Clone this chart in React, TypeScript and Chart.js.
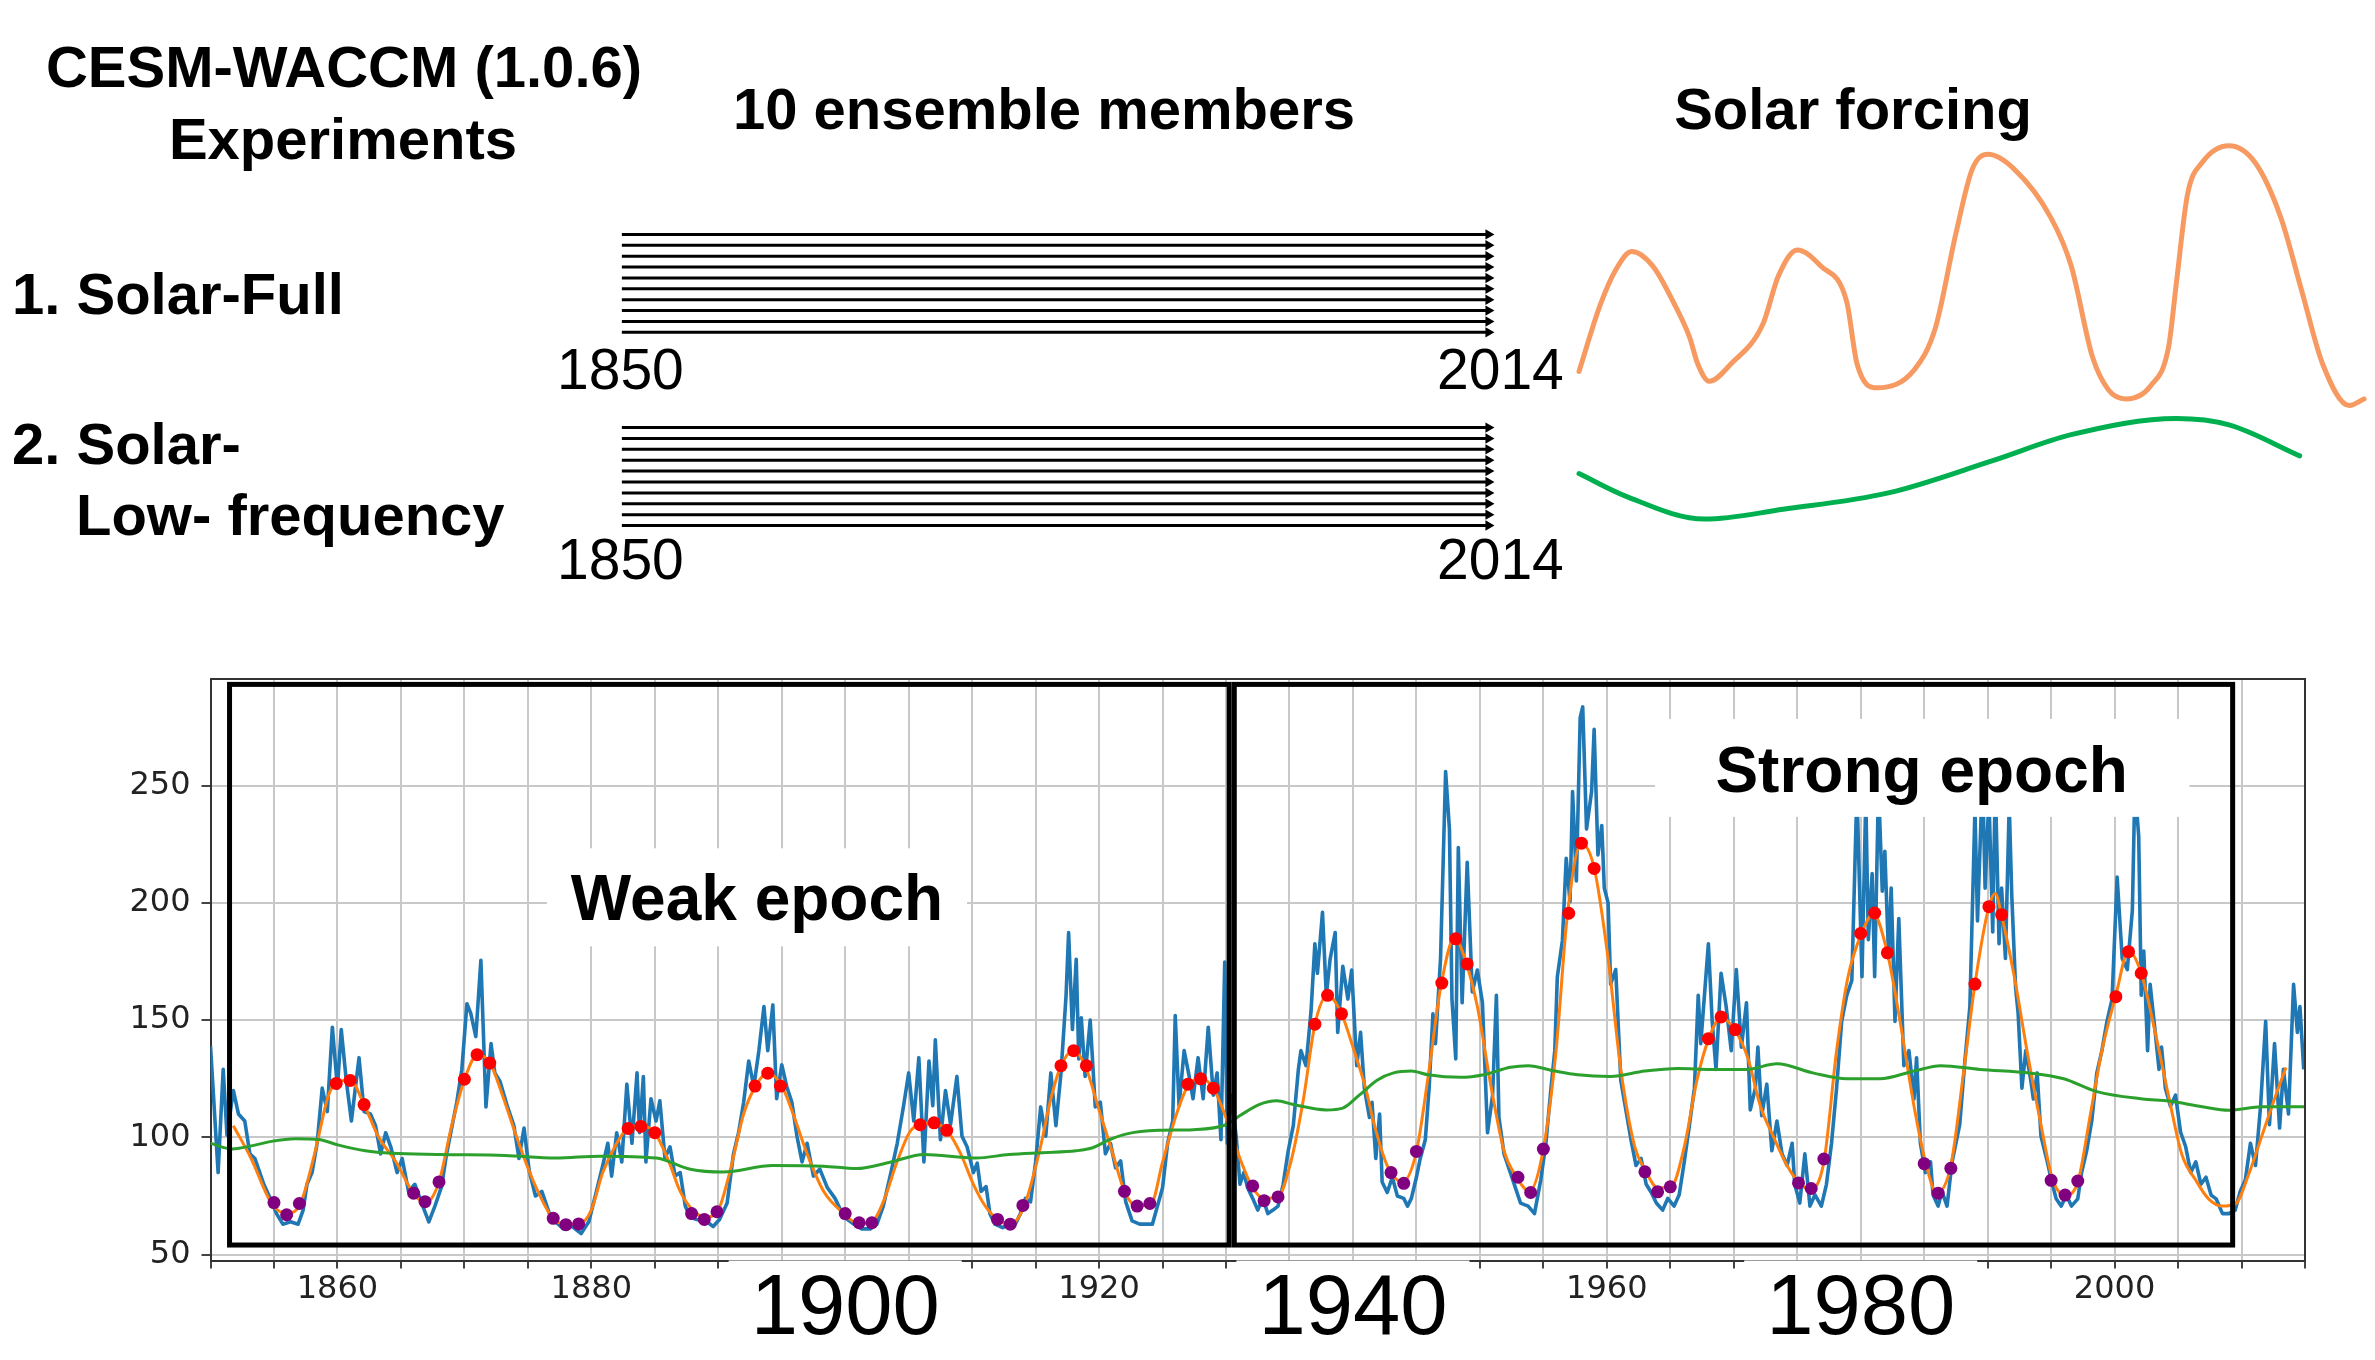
import React, { useEffect, useRef } from 'react';
import { Chart, registerables } from 'chart.js';

Chart.register(...registerables);

// ================= TOP PANEL DATA =================
const ensembleMembers = [1, 2, 3, 4, 5, 6, 7, 8, 9, 10];
const experimentNames = ['Solar-Full', 'Solar-Low-frequency'];
const runStartYear = 1850;
const runEndYear = 2014;

// schematic "Solar forcing" curves: [time index, forcing (arbitrary units)]
const fullForcingCurve: [number, number][] = [
  [0, 13.8], [2.7, 38.9], [4.7, 52.3], [6.7, 59.1], [9.4, 53.6], [12.0, 40.1], [14.1, 26.6], [15.1, 16.8],
  [16.6, 10.1], [19.4, 16.8], [23.4, 31.5], [25.4, 49.9], [27.8, 59.7], [30.8, 53.6], [34.1, 40.1], [35.4, 16.8],
  [38.0, 7.6], [42.7, 14.4], [45.4, 30.3], [48.0, 65.8], [50.1, 90.3], [52.1, 95.8], [55.4, 90.3], [60.1, 71.9],
  [62.7, 53.6], [65.4, 19.3], [67.4, 7.0], [69.7, 3.4], [72.8, 8.3], [75.1, 23.0], [76.1, 47.4], [77.5, 80.5],
  [79.4, 92.8], [82.8, 99.1], [86.1, 92.8], [89.4, 71.9], [92.1, 43.8], [94.7, 16.8], [98.1, 0.9], [100, 3.4],
];
const lowFreqForcingCurve: [number, number][] = [
  [0, -24.8], [6.0, -33.4], [16.0, -42.0], [26.0, -38.3], [39.4, -32.1], [52.7, -19.9], [62.7, -10.1],
  [76.1, -4.0], [82.8, -6.4], [91.8, -18.1],
];

// ================= BOTTOM PANEL DATA =================
const monthlySeries: [number, number][] = [
  [1850.0, 139], [1850.2, 121], [1850.6, 85], [1851.0, 129], [1851.3, 101], [1851.8, 120], [1852.2, 110], [1852.7, 107],
  [1853.1, 93], [1853.5, 91], [1854.2, 80], [1854.7, 74], [1855.2, 67.5], [1855.7, 63], [1856.3, 64], [1856.9, 63],
  [1857.3, 69], [1857.6, 80], [1858.0, 85], [1858.4, 97.5], [1858.8, 121], [1859.2, 111], [1859.6, 147], [1860.0, 121],
  [1860.3, 146], [1860.7, 124], [1861.1, 107], [1861.7, 134], [1862.1, 111], [1862.6, 110], [1863.0, 105], [1863.4, 93],
  [1863.8, 102], [1864.2, 96], [1864.7, 85], [1865.1, 91], [1865.6, 77], [1866.1, 80], [1866.7, 71], [1867.2, 64],
  [1867.7, 71], [1868.2, 79], [1868.6, 93], [1869.0, 104], [1869.4, 115], [1869.8, 129], [1870.2, 157], [1870.5, 153],
  [1870.9, 143], [1871.3, 175.5], [1871.7, 113], [1872.1, 140], [1872.4, 127.5], [1872.8, 124], [1873.4, 113], [1873.9, 105],
  [1874.3, 91], [1874.7, 104], [1875.1, 86], [1875.6, 75], [1876.1, 77], [1876.7, 67.5], [1877.2, 64], [1877.8, 61],
  [1878.5, 62], [1879.2, 59], [1879.8, 64], [1880.4, 77], [1880.9, 88], [1881.3, 97.5], [1881.6, 83.5], [1882.0, 102],
  [1882.4, 89.5], [1882.8, 122.7], [1883.2, 97.5], [1883.6, 127.5], [1883.8, 102], [1884.1, 126], [1884.3, 89.5], [1884.7, 116.5],
  [1885.1, 107], [1885.4, 115.6], [1885.8, 91.2], [1886.2, 96], [1886.6, 83.5], [1887.0, 85], [1887.4, 70.7], [1887.8, 66],
  [1888.3, 65], [1889.0, 64.4], [1889.6, 62], [1890.1, 65], [1890.7, 72], [1891.2, 93], [1891.6, 102], [1892.0, 115],
  [1892.4, 132.6], [1892.8, 121.6], [1893.2, 137], [1893.6, 155.8], [1893.9, 137], [1894.3, 156.5], [1894.6, 116.5], [1895.0, 131],
  [1895.4, 121.6], [1895.8, 115], [1896.2, 100.5], [1896.6, 89.5], [1897.0, 97.5], [1897.5, 83.5], [1898.0, 86.5], [1898.6, 78.5],
  [1899.2, 74], [1899.9, 66], [1900.7, 63], [1901.3, 61], [1902.0, 61], [1902.5, 63], [1903.0, 70.7], [1903.6, 85],
  [1904.1, 97.5], [1904.6, 113.5], [1905.0, 127.5], [1905.4, 107], [1905.8, 134], [1906.2, 89.5], [1906.6, 132.6], [1906.9, 113.5],
  [1907.1, 141.6], [1907.5, 99], [1907.9, 120], [1908.3, 105.5], [1908.8, 126], [1909.2, 100.5], [1909.6, 96], [1910.1, 85],
  [1910.4, 89], [1910.7, 77], [1911.1, 79], [1911.4, 67.5], [1911.8, 63], [1912.4, 61.5], [1912.9, 63], [1913.4, 63],
  [1913.8, 67.5], [1914.2, 74], [1914.6, 72.5], [1915.0, 89.5], [1915.4, 113], [1915.8, 100.5], [1916.2, 127.5], [1916.6, 105],
  [1917.0, 127.5], [1917.4, 160.6], [1917.6, 187.4], [1917.9, 146], [1918.2, 176], [1918.4, 133.5], [1918.6, 151], [1918.9, 126],
  [1919.3, 150], [1919.7, 113], [1920.1, 115], [1920.5, 93], [1920.9, 97.5], [1921.3, 87], [1921.7, 90], [1922.1, 72.5],
  [1922.6, 64.4], [1923.2, 63], [1923.7, 63], [1924.2, 63], [1924.6, 70.7], [1925.0, 78.5], [1925.4, 97.5], [1925.8, 107],
  [1926.0, 152], [1926.3, 113.5], [1926.7, 137], [1927.1, 126], [1927.4, 116.5], [1927.8, 134], [1928.2, 116.5], [1928.6, 147],
  [1929.0, 118], [1929.3, 127.5], [1929.6, 99], [1929.9, 174.8], [1930.1, 97.5], [1930.4, 118], [1930.8, 100.5], [1931.1, 80],
  [1931.4, 85], [1931.7, 78.5], [1932.1, 74], [1932.5, 69], [1932.9, 74], [1933.3, 67.5], [1933.7, 69], [1934.1, 70.7],
  [1934.5, 80], [1934.9, 94.3], [1935.3, 105], [1935.7, 129], [1935.9, 137], [1936.3, 130.6], [1936.7, 154], [1937.0, 182.6],
  [1937.2, 170], [1937.6, 196], [1937.9, 160.6], [1938.2, 176], [1938.6, 187.4], [1938.8, 144.8], [1939.2, 173], [1939.6, 159],
  [1939.9, 171.4], [1940.3, 130.6], [1940.6, 144.8], [1940.9, 121], [1941.3, 108.5], [1941.5, 115], [1941.8, 91], [1942.1, 110],
  [1942.3, 81], [1942.7, 76.5], [1943.1, 83], [1943.5, 75], [1944.0, 74], [1944.3, 70.7], [1944.6, 74], [1945.0, 83],
  [1945.3, 91], [1945.7, 99], [1946.0, 121], [1946.3, 152.7], [1946.5, 140], [1946.9, 176.3], [1947.3, 256], [1947.6, 231.5],
  [1947.8, 159], [1948.1, 133.5], [1948.3, 223.6], [1948.6, 157.4], [1949.0, 217.3], [1949.4, 162], [1949.8, 171.4], [1950.2, 157.4],
  [1950.6, 102], [1951.0, 118], [1951.3, 160.6], [1951.5, 108.5], [1951.9, 93], [1952.4, 85], [1952.8, 78.5], [1953.2, 72],
  [1953.8, 70.7], [1954.3, 67.5], [1954.8, 82], [1955.2, 97.5], [1955.6, 121], [1955.9, 137], [1956.1, 168.5], [1956.5, 184],
  [1956.8, 219], [1957.1, 200.5], [1957.3, 247.5], [1957.6, 209.4], [1957.9, 279], [1958.1, 283.6], [1958.4, 231.5], [1958.8, 247.5],
  [1959.0, 274], [1959.3, 220.5], [1959.6, 233], [1959.8, 206.3], [1960.1, 200], [1960.3, 165.3], [1960.7, 171.6], [1961.1, 124.3],
  [1961.5, 111.7], [1961.9, 99], [1962.3, 88], [1962.7, 91], [1963.1, 80], [1963.5, 76.5], [1963.9, 72], [1964.4, 69],
  [1964.8, 74], [1965.3, 70.7], [1965.7, 75.5], [1966.1, 89.5], [1966.5, 105], [1966.9, 121], [1967.2, 160.6], [1967.4, 140],
  [1968.0, 182.6], [1968.3, 149.5], [1968.6, 129], [1969.0, 170], [1969.4, 155.8], [1969.8, 137], [1970.2, 171.6], [1970.6, 138.5],
  [1971.0, 157.4], [1971.3, 111.7], [1971.7, 121], [1971.9, 138.5], [1972.2, 109.3], [1972.6, 122.7], [1973.0, 94.3], [1973.4, 107],
  [1973.8, 93], [1974.2, 88], [1974.6, 97.5], [1974.8, 80], [1975.2, 72], [1975.6, 93], [1976.0, 70.7], [1976.4, 75.5],
  [1976.9, 70.7], [1977.3, 80], [1977.7, 97.5], [1978.1, 121], [1978.5, 149.5], [1978.9, 160.6], [1979.3, 167], [1979.7, 248],
  [1980.1, 168.5], [1980.4, 245], [1980.6, 184.3], [1980.9, 212.5], [1981.1, 168.5], [1981.4, 250], [1981.7, 205], [1981.9, 222],
  [1982.2, 176.3], [1982.4, 206.3], [1982.7, 149.5], [1983.0, 193.3], [1983.4, 130.6], [1983.8, 137], [1984.2, 116.4], [1984.4, 134],
  [1984.7, 97.5], [1985.1, 85], [1985.5, 89.6], [1985.7, 75.4], [1986.1, 70.7], [1986.4, 77], [1986.8, 70.7], [1987.2, 89.6],
  [1987.8, 105.4], [1988.2, 132.3], [1988.6, 155.8], [1989.0, 240], [1989.2, 192.3], [1989.6, 255], [1989.8, 206.3], [1990.1, 245],
  [1990.4, 187.6], [1990.6, 252], [1990.9, 182.6], [1991.1, 206.3], [1991.4, 176.3], [1991.7, 242], [1991.9, 203.2], [1992.2, 164],
  [1992.4, 153], [1992.7, 121], [1993.0, 137], [1993.4, 124.3], [1993.6, 116.4], [1993.9, 127.5], [1994.2, 100.6], [1994.7, 89.6],
  [1995.1, 80], [1995.4, 73.8], [1995.8, 70.7], [1996.2, 75.4], [1996.6, 70.7], [1997.1, 73.8], [1997.4, 85], [1997.8, 94.3],
  [1998.2, 107], [1998.6, 127.5], [1999.0, 137], [1999.4, 149.5], [1999.8, 159], [2000.2, 211], [2000.6, 176.3], [2001.0, 171.6],
  [2001.4, 196.8], [2001.6, 250], [2001.9, 228.4], [2002.1, 160.6], [2002.3, 179.5], [2002.6, 137], [2002.8, 165.3], [2003.2, 144.8],
  [2003.5, 129], [2003.7, 138.5], [2004.0, 121], [2004.4, 113.3], [2004.8, 118], [2005.2, 102.2], [2005.6, 96], [2006.0, 85],
  [2006.4, 89.6], [2006.8, 80], [2007.2, 83], [2007.6, 75.4], [2008.0, 73.8], [2008.5, 67.5], [2009.0, 67.5], [2009.5, 69],
  [2009.9, 77], [2010.3, 81.8], [2010.7, 97.5], [2011.1, 88], [2011.5, 113.3], [2011.9, 149.5], [2012.2, 105.4], [2012.6, 140],
  [2013.0, 104], [2013.3, 129], [2013.7, 110], [2014.1, 165.3], [2014.4, 144.8], [2014.6, 155.8], [2014.9, 129],
];

const smoothedYears = [
  1851.8, 1853.2, 1854.8, 1856.0, 1857.1, 1858.2, 1859.3, 1860.0, 1861.0, 1862.1,
  1863.2, 1864.6, 1866.0, 1866.9, 1868.0, 1869.0, 1870.0, 1871.0, 1872.0, 1873.0,
  1874.0, 1875.3, 1876.9, 1878.0, 1879.0, 1880.0, 1880.9, 1882.0, 1882.9, 1883.9,
  1885.0, 1886.1, 1887.0, 1888.0, 1889.0, 1890.0, 1890.9, 1892.0, 1893.0, 1893.9,
  1895.0, 1895.9, 1897.0, 1898.3, 1899.9, 1900.9, 1902.0, 1903.0, 1904.1, 1905.1,
  1905.9, 1907.0, 1908.0, 1909.1, 1910.1, 1911.0, 1912.0, 1913.0, 1914.1, 1915.3,
  1916.2, 1917.0, 1918.0, 1918.9, 1920.0, 1921.1, 1922.0, 1923.0, 1924.1, 1925.0,
  1926.1, 1927.0, 1928.0, 1929.0, 1930.0, 1931.1, 1932.1, 1933.0, 1934.1, 1935.1,
  1936.1, 1937.0, 1938.0, 1939.1, 1940.0, 1941.0, 1941.7, 1942.7, 1943.9, 1945.0,
  1946.0, 1946.9, 1948.0, 1948.9, 1949.8, 1950.9, 1951.9, 1952.9, 1953.9, 1955.0,
  1956.0, 1956.9, 1958.0, 1959.0, 1960.1, 1961.1, 1962.2, 1963.0, 1964.0, 1965.1,
  1966.1, 1967.1, 1968.0, 1969.0, 1970.1, 1971.1, 1972.1, 1973.1, 1974.2, 1975.1,
  1976.0, 1977.1, 1978.1, 1979.0, 1980.1, 1981.0, 1982.1, 1983.1, 1984.2, 1985.1,
  1986.0, 1987.1, 1988.1, 1989.0, 1990.1, 1990.6, 1991.1, 1992.1, 1993.1, 1994.2,
  1995.1, 1996.1, 1997.1, 1998.1, 1999.0, 2000.1, 2001.1, 2002.1, 2003.2, 2004.3,
  2005.3, 2006.4, 2007.4, 2008.5, 2009.5, 2010.6, 2011.6, 2012.7, 2013.5,
];
const smoothedValues = [
  105, 91, 72, 67.5, 72, 93, 118, 123.5, 124.5, 114,
  100.6, 89.6, 76, 72, 81, 105, 124.5, 135, 132, 118,
  102, 83, 66, 63, 63, 69, 85, 97.5, 104, 105,
  102, 89.8, 77, 69, 66, 69, 85, 110, 122.5, 127.5,
  122, 110, 93, 77, 67.5, 63.6, 63.6, 72.5, 89.8, 102.4,
  105.5, 106, 103, 93, 80, 71, 65, 63, 70.7, 94,
  116.4, 130.6, 137, 130.6, 111.7, 92.7, 77, 70.7, 71.5, 89.4,
  110, 122, 125, 121, 108.4, 91, 78.5, 74, 74.7, 89.4,
  116.4, 148, 160.6, 152.7, 138.5, 121, 105, 88, 81, 94,
  129, 163.7, 185, 174.8, 155.8, 121, 94.3, 83, 77, 95,
  137, 195.3, 225.2, 215, 176.3, 129, 96, 86.4, 78.5, 79.2,
  96, 124.4, 141.7, 151.1, 145.6, 134, 113.3, 100.6, 88, 80.9,
  77.8, 89.6, 137, 168.5, 187.4, 195.3, 178.7, 149.5, 113.3, 89.6,
  76.2, 88, 127.5, 165.4, 198.4, 204, 194.6, 168.5, 137, 105.4,
  82.5, 75.4, 80.9, 110, 137, 160.6, 179.5, 170, 144.8, 116.4,
  92.7, 81.7, 73.8, 70.7, 71.5, 84.8, 100.6, 118, 129.8,
];

const lowFrequencySeries: [number, number][] = [
  [1850.0, 97.5], [1851.7, 95.1], [1853.5, 96.7], [1854.8, 98.3], [1856.7, 99.4], [1858.5, 99.1], [1860.1, 96.7],
  [1862.2, 94.3], [1864.3, 93.2], [1868.0, 92.7], [1873.2, 92.3], [1877.2, 91.2], [1880.7, 92], [1885.1, 91.2],
  [1887.8, 86.4], [1890.4, 85.2], [1894.3, 88], [1898.3, 87.7], [1900.9, 86.7], [1903.6, 89.5], [1906.2, 92.7],
  [1910.3, 91.2], [1912.9, 92.7], [1915.5, 93.5], [1918.2, 94.3], [1919.5, 95.6], [1920.8, 99], [1922.1, 101.4],
  [1924.7, 103], [1927.4, 103.3], [1930.0, 105.4], [1931.1, 109.3], [1932.6, 114], [1934.0, 115.6], [1935.3, 114],
  [1937.9, 111.7], [1939.2, 112.5], [1940.5, 118], [1941.9, 124.4], [1943.2, 127.5], [1944.6, 128.3], [1945.9, 126.7],
  [1948.5, 125.6], [1950.3, 126.7], [1952.4, 129.9], [1953.8, 130.6], [1955.9, 128.3], [1957.7, 126.7], [1960.3, 126],
  [1963.0, 128.3], [1965.6, 129.4], [1968.2, 129], [1971.0, 129], [1973.4, 131.4], [1976.3, 127.4], [1978.9, 125],
  [1981.5, 125], [1984.2, 128.3], [1986.3, 130.6], [1989.4, 129], [1993.4, 127.4], [1996.0, 125], [1998.6, 119.5],
  [2002.2, 116.4], [2004.3, 115.5], [2006.9, 113.1], [2009.0, 111.6], [2011.6, 113.1], [2015.0, 113.1],
];

const cycleMaxDots: [number, number][] = [
  [1859.9, 123], [1861.0, 124.3], [1862.1, 114], [1870.0, 124.8], [1871.0, 135.3], [1872.0, 131.7],
  [1882.9, 103.8], [1883.9, 104.7], [1885.0, 102], [1892.9, 121.9], [1893.9, 127.4], [1894.9, 121.9],
  [1905.9, 105.4], [1907.0, 106.2], [1908.0, 103], [1917.0, 130.6], [1918.0, 137], [1919.0, 130.6],
  [1927.0, 122.7], [1928.0, 125], [1929.0, 121], [1937.0, 148.3], [1938.0, 160.6], [1939.1, 152.7],
  [1947.0, 165.8], [1948.1, 184.7], [1949.0, 174], [1957.0, 195.6], [1958.0, 225.5], [1959.0, 214.7],
  [1968.0, 142.1], [1969.0, 151.4], [1970.1, 146], [1980.0, 187], [1981.1, 195.7], [1982.1, 178.7],
  [1989.0, 165.4], [1990.1, 198.4], [1991.1, 195], [2000.1, 160], [2001.1, 179.2], [2002.1, 170],
];
const cycleMinDots: [number, number][] = [
  [1855.0, 72.2], [1856.0, 67], [1857.0, 71.8], [1866.0, 76.2], [1866.9, 72.6], [1868.0, 81],
  [1877.0, 65.5], [1878.0, 62.8], [1879.0, 63.1], [1887.9, 67.5], [1888.9, 65], [1889.9, 68.3],
  [1900.0, 67.5], [1901.1, 63.6], [1902.1, 63.6], [1912.0, 65], [1913.0, 63], [1914.0, 71],
  [1922.0, 77], [1923.0, 70.7], [1924.0, 71.8], [1932.1, 79.3], [1933.0, 73], [1934.1, 74.6],
  [1943.0, 85], [1944.0, 80.4], [1945.0, 94], [1953.0, 83], [1954.0, 76.5], [1955.0, 95],
  [1963.0, 85.3], [1964.0, 76.8], [1965.0, 78.9], [1975.1, 80.6], [1976.1, 78.2], [1977.1, 90.8],
  [1985.0, 88.8], [1986.1, 76.2], [1987.1, 86.8], [1995.0, 81.7], [1996.1, 75.4], [1997.1, 81.4],
];

const epochNames = ['Weak epoch', 'Strong epoch'];
const epochStartYears = [1851.5, 1930.65];
const epochEndYears = [1930.25, 2009.3];

const yTickValues = [50, 100, 150, 200, 250];
const xLabelYears = [1860, 1880, 1900, 1920, 1940, 1960, 1980, 2000];
const bigLabelYears = [1900, 1940, 1980];

// ================= LAYOUT / STYLE (not data) =================
const W = 2375;
const TOP_H = 610;
const BOT_TOP = 640;
const BOT_H = 720;
const GROUP_GAP = 17.75;
const epochBoxLow = 54.1;
const epochBoxHigh = 293.2;
const epochLabelBox = [
  { x0: 1876.5, x1: 1909.6, y0: 181.5, y1: 223.3, cx: 1893.05, cy: 202.5 },
  { x0: 1963.8, x1: 2005.9, y0: 236.7, y1: 278.5, cx: 1984.8, cy: 257.1 },
];
const SANS = '"Liberation Sans", Arial, Helvetica, sans-serif';
const DEJAVU = '"DejaVu Sans", sans-serif';

const pts = (arr: [number, number][]) => arr.map(([x, y]) => ({ x, y }));

const overlayPlugin = {
  id: 'epochOverlay',
  afterDatasetsDraw(chart: any) {
    const { ctx, chartArea, scales } = chart;
    const xs = scales.x;
    const ys = scales.y;
    ctx.save();
    ctx.strokeStyle = '#333';
    ctx.lineWidth = 2;
    ctx.beginPath();
    ctx.moveTo(chartArea.left, chartArea.top);
    ctx.lineTo(chartArea.right, chartArea.top);
    ctx.lineTo(chartArea.right, chartArea.bottom);
    ctx.stroke();
    epochNames.forEach((name, i) => {
      const b = epochLabelBox[i];
      const l = xs.getPixelForValue(b.x0);
      const r = xs.getPixelForValue(b.x1);
      const t = ys.getPixelForValue(b.y1);
      const bt = ys.getPixelForValue(b.y0);
      ctx.fillStyle = '#ffffff';
      ctx.fillRect(l, t, r - l, bt - t);
      ctx.fillStyle = '#000';
      ctx.font = `bold 64px ${SANS}`;
      ctx.textAlign = 'center';
      ctx.textBaseline = 'alphabetic';
      ctx.fillText(name, xs.getPixelForValue(b.cx), ys.getPixelForValue(b.cy) + 0.358 * 64);
    });
    ctx.strokeStyle = '#000';
    ctx.lineWidth = 5;
    epochNames.forEach((_, i) => {
      const l = xs.getPixelForValue(epochStartYears[i]);
      const r = xs.getPixelForValue(epochEndYears[i]);
      const t = ys.getPixelForValue(epochBoxHigh);
      const bt = ys.getPixelForValue(epochBoxLow);
      ctx.strokeRect(l, t, r - l, bt - t);
    });
    ctx.restore();
  },
};

function topConfig(): any {
  const arrows = experimentNames.flatMap((name, g) =>
    ensembleMembers.map((m) => ({
      type: 'line',
      label: `${name} member ${m}`,
      data: [
        { x: runStartYear, y: m - 1 + g * GROUP_GAP },
        { x: runEndYear, y: m - 1 + g * GROUP_GAP },
      ],
      xAxisID: 'xa',
      yAxisID: 'ya',
      borderColor: '#000',
      borderWidth: 3,
      pointRadius: [0, 6],
      pointHoverRadius: [0, 6],
      pointStyle: 'triangle',
      pointRotation: 90,
      pointBackgroundColor: '#000',
      pointBorderColor: '#000',
      pointBorderWidth: 0,
      clip: false,
    }))
  );
  return {
    type: 'line',
    data: {
      datasets: [
        ...arrows,
        {
          label: 'Solar-Full forcing',
          data: pts(fullForcingCurve),
          xAxisID: 'xs',
          yAxisID: 'ys',
          borderColor: '#F79A61',
          borderWidth: 5,
          pointRadius: 0,
          cubicInterpolationMode: 'monotone',
          borderCapStyle: 'round',
          borderJoinStyle: 'round',
          clip: false,
        },
        {
          label: 'Solar-Low-frequency forcing',
          data: pts(lowFreqForcingCurve),
          xAxisID: 'xs',
          yAxisID: 'ys',
          borderColor: '#00B050',
          borderWidth: 5,
          pointRadius: 0,
          cubicInterpolationMode: 'monotone',
          borderCapStyle: 'round',
          clip: false,
        },
      ],
    },
    options: {
      responsive: false,
      devicePixelRatio: 1,
      animation: false,
      events: [],
      layout: { padding: 0 },
      plugins: { legend: { display: false }, tooltip: { enabled: false }, title: { display: false } },
      scales: {
        xa: { type: 'linear', display: false, min: 1733.45, max: 2180.64 },
        ya: { type: 'linear', display: false, min: -20.99, max: 33.96, reverse: true },
        xs: { type: 'linear', display: false, min: -200.38, max: 100.63 },
        ys: { type: 'linear', display: false, min: -74.07, max: 151.85 },
      },
    },
  };
}

function bottomConfig(): any {
  const isBig = (ctx: any) => bigLabelYears.includes(Math.round(ctx?.tick?.value ?? -1));
  return {
    type: 'line',
    data: {
      datasets: [
        {
          label: 'cycle maxima',
          data: pts(cycleMaxDots),
          showLine: false,
          pointRadius: 6.5,
          pointBackgroundColor: '#ff0000',
          pointBorderWidth: 0,
          order: 0,
        },
        {
          label: 'cycle minima',
          data: pts(cycleMinDots),
          showLine: false,
          pointRadius: 6.5,
          pointBackgroundColor: '#800080',
          pointBorderWidth: 0,
          order: 0,
        },
        {
          label: 'low frequency',
          data: pts(lowFrequencySeries),
          borderColor: '#2ca02c',
          borderWidth: 3,
          pointRadius: 0,
          cubicInterpolationMode: 'monotone',
          order: 1,
        },
        {
          label: '11-yr smoothed',
          data: smoothedYears.map((x, i) => ({ x, y: smoothedValues[i] })),
          borderColor: '#ff7f0e',
          borderWidth: 3,
          pointRadius: 0,
          cubicInterpolationMode: 'monotone',
          order: 2,
        },
        {
          label: 'monthly',
          data: pts(monthlySeries),
          borderColor: '#1f77b4',
          borderWidth: 3.6,
          borderJoinStyle: 'round',
          pointRadius: 0,
          tension: 0,
          order: 3,
        },
      ],
    },
    options: {
      responsive: false,
      devicePixelRatio: 1,
      animation: false,
      events: [],
      layout: { padding: { top: 39, right: 70, left: 0, bottom: 0 } },
      plugins: { legend: { display: false }, tooltip: { enabled: false }, title: { display: false } },
      scales: {
        x: {
          type: 'linear',
          position: 'bottom',
          min: 1850,
          max: 2015,
          bounds: 'data',
          afterFit: (s: any) => {
            s.height = 99.5;
          },
          grid: { color: '#c8c8c8', lineWidth: 2, tickLength: 8, tickColor: '#444', tickWidth: 2 },
          border: { display: true, color: '#333', width: 2 },
          ticks: {
            stepSize: 5,
            maxTicksLimit: 100,
            includeBounds: false,
            autoSkip: false,
            maxRotation: 0,
            minRotation: 0,
            padding: 2,
            z: 1,
            callback: (v: any) => (xLabelYears.includes(Math.round(v)) ? String(Math.round(v)) : ''),
            color: (ctx: any) => (isBig(ctx) ? '#000' : '#222'),
            font: (ctx: any) =>
              isBig(ctx)
                ? { family: SANS, size: 85, lineHeight: 0.95 }
                : { family: DEJAVU, size: 32 },
            showLabelBackdrop: (ctx: any) => isBig(ctx),
            backdropColor: '#ffffff',
            backdropPadding: { top: 20, bottom: 10, left: 22, right: 22 },
          },
        },
        y: {
          type: 'linear',
          min: 47.5,
          max: 295.5,
          bounds: 'data',
          afterBuildTicks: (s: any) => {
            s.ticks = yTickValues.map((value) => ({ value }));
          },
          afterFit: (s: any) => {
            s.width = 210.5;
          },
          grid: { color: '#c8c8c8', lineWidth: 2, tickLength: 9, tickColor: '#444', tickWidth: 2 },
          border: { display: true, color: '#333', width: 2 },
          ticks: {
            padding: 11,
            color: '#222',
            font: { family: DEJAVU, size: 32 },
            callback: (v: any) => String(Math.round(v)),
          },
        },
      },
    },
    plugins: [overlayPlugin],
  };
}

type TextItem = { text: string; x: number; top: number; center?: boolean; bold: boolean; size: number };
const textItems: TextItem[] = [
  { text: 'CESM-WACCM (1.0.6)', x: 344, top: 38, center: true, bold: true, size: 58 },
  { text: 'Experiments', x: 343, top: 110, center: true, bold: true, size: 58 },
  { text: '10 ensemble members', x: 1044, top: 80, center: true, bold: true, size: 58 },
  { text: 'Solar forcing', x: 1853, top: 80, center: true, bold: true, size: 58 },
  { text: '1. Solar-Full', x: 12, top: 265, bold: true, size: 58 },
  { text: '2. Solar-', x: 12, top: 415, bold: true, size: 58 },
  { text: 'Low- frequency', x: 76, top: 486, bold: true, size: 58 },
  { text: String(runStartYear), x: 557, top: 341, bold: false, size: 57 },
  { text: String(runEndYear), x: 1437, top: 341, bold: false, size: 57 },
  { text: String(runStartYear), x: 557, top: 531, bold: false, size: 57 },
  { text: String(runEndYear), x: 1437, top: 531, bold: false, size: 57 },
];

export default function App() {
  const topRef = useRef<HTMLCanvasElement>(null);
  const botRef = useRef<HTMLCanvasElement>(null);

  useEffect(() => {
    const top = new Chart(topRef.current as HTMLCanvasElement, topConfig());
    const bot = new Chart(botRef.current as HTMLCanvasElement, bottomConfig());
    return () => {
      top.destroy();
      bot.destroy();
    };
  }, []);

  return (
    <div
      style={{
        position: 'absolute',
        left: 0,
        top: 0,
        width: W,
        height: 1360,
        background: '#ffffff',
        overflow: 'hidden',
      }}
    >
      <canvas
        ref={topRef}
        width={W}
        height={TOP_H}
        style={{ position: 'absolute', left: 0, top: 0, width: W, height: TOP_H }}
      />
      <canvas
        ref={botRef}
        width={W}
        height={BOT_H}
        style={{ position: 'absolute', left: 0, top: BOT_TOP, width: W, height: BOT_H }}
      />
      {textItems.map((t, i) => (
        <div
          key={i}
          style={{
            position: 'absolute',
            left: t.x,
            top: t.top,
            transform: t.center ? 'translateX(-50%)' : undefined,
            fontFamily: SANS,
            fontWeight: t.bold ? 700 : 400,
            fontSize: t.size,
            lineHeight: `${t.size}px`,
            whiteSpace: 'nowrap',
            color: '#000',
          }}
        >
          {t.text}
        </div>
      ))}
    </div>
  );
}
